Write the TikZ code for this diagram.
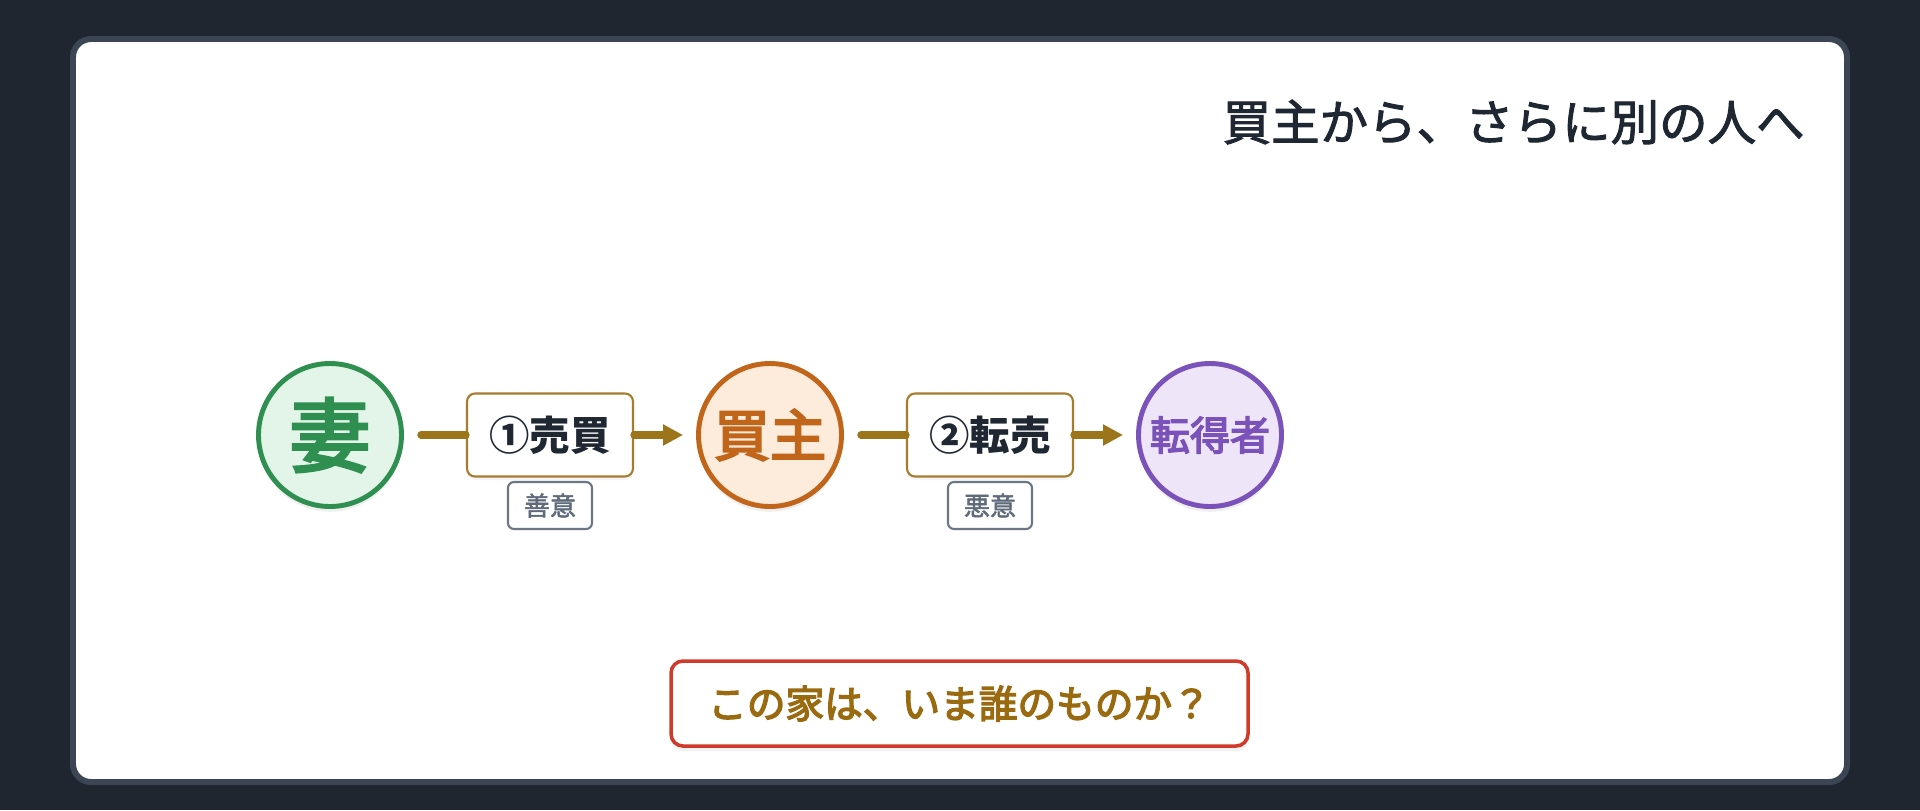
\documentclass[tikz,border=0pt]{standalone}
\usepackage{fontspec}
\newfontfamily\jp{Noto Sans CJK JP}
\newfontfamily\jpmid[FakeBold=2]{Noto Sans CJK JP}
\newfontfamily\jpheavy[FakeBold=3.5]{Noto Sans CJK JP}
\usepackage{xcolor}
\definecolor{page-dark}{HTML}{1F2630}
\definecolor{card-edge}{HTML}{3B4554}
\definecolor{ink}{HTML}{1E2732}
\definecolor{flow-gold}{HTML}{9C7419}
\definecolor{deal-edge}{HTML}{A67C2E}
\definecolor{wife-edge}{HTML}{2F8F50}
\definecolor{wife-fill}{HTML}{E3F4E8}
\definecolor{buyer-edge}{HTML}{C0651A}
\definecolor{buyer-fill}{HTML}{FDEBDB}
\definecolor{third-edge}{HTML}{7B52B9}
\definecolor{third-fill}{HTML}{EEE5F8}
\definecolor{tag-edge}{HTML}{6B7787}
\definecolor{tag-ink}{HTML}{5F6B7A}
\definecolor{ask-edge}{HTML}{CF3A2A}
\definecolor{ask-ink}{HTML}{9A6A10}
\usetikzlibrary{arrows.meta,shadows}

\begin{document}
\begin{tikzpicture}[
    party/.style={circle, line width=1.4pt, minimum size=1.43cm, inner sep=0pt,
        drop shadow={opacity=0.12, shadow xshift=0pt, shadow yshift=-1.5pt}},
    deal/.style={draw=deal-edge, fill=white, line width=0.6pt, rounded corners=0.08cm,
        minimum width=1.66cm, minimum height=0.83cm, inner sep=0pt, text=ink,
        font=\jp\bfseries\fontsize{11.5}{13}\selectfont,
        drop shadow={opacity=0.08, shadow xshift=0pt, shadow yshift=-1pt}},
    mind/.style={draw=tag-edge, fill=white, line width=0.6pt, rounded corners=0.06cm,
        minimum width=0.84cm, minimum height=0.47cm, inner sep=0pt, text=tag-ink,
        font=\jpmid\fontsize{7.4}{9}\selectfont},
    flow/.style={draw=flow-gold, line width=2.1pt, line cap=round}
]

    % Background
    \useasboundingbox (0, 0) rectangle (19.2, 8.1);
    \fill[page-dark] (0, 0) rectangle (19.2, 8.1);

    % Card
    \draw[card-edge, fill=white, line width=1.7pt, rounded corners=0.18cm] (0.73, 0.28) rectangle (18.47, 7.71);

    % Title
    \node[anchor=east, text=ink, font=\jpmid\fontsize{13.8}{16}\selectfont] (title) at (18.17, 6.88) {買主から、さらに別の人へ};

    % Parties
    \node[party, draw=wife-edge, fill=wife-fill, text=wife-edge, font=\jpheavy\fontsize{23}{26}\selectfont] (wife) at (3.30, 3.75) {妻};
    \node[party, draw=buyer-edge, fill=buyer-fill, text=buyer-edge, font=\jpheavy\fontsize{16}{18}\selectfont] (buyer) at (7.70, 3.75) {買主};
    \node[party, draw=third-edge, fill=third-fill, text=third-edge, font=\jpheavy\fontsize{11.4}{13}\selectfont] (third) at (12.10, 3.75) {転得者};

    % Deals
    \node[deal] (sale) at (5.50, 3.75) {①売買};
    \node[deal] (resale) at (9.90, 3.75) {②転売};
    \node[mind] (good) at (5.50, 3.045) {善意};
    \node[mind] (bad) at (9.90, 3.045) {悪意};

    % Arrows
    \draw[flow, shorten <=0.17cm] (wife) -- (sale);
    \draw[flow, -{Triangle[length=0.2cm, width=0.2cm]}, shorten >=0.13cm] (sale) -- (buyer);
    \draw[flow, shorten <=0.17cm] (buyer) -- (resale);
    \draw[flow, -{Triangle[length=0.2cm, width=0.2cm]}, shorten >=0.13cm] (resale) -- (third);

    % Question
    \node[draw=ask-edge, fill=white, line width=1pt, rounded corners=0.12cm, minimum width=5.77cm, minimum height=0.85cm,
        text=ask-ink, font=\jpheavy\fontsize{11}{13}\selectfont,
        drop shadow={opacity=0.1, shadow xshift=0pt, shadow yshift=-1.5pt}] (ask) at (9.595, 1.065) {この家は、いま誰のものか？};

\end{tikzpicture}
\end{document}
